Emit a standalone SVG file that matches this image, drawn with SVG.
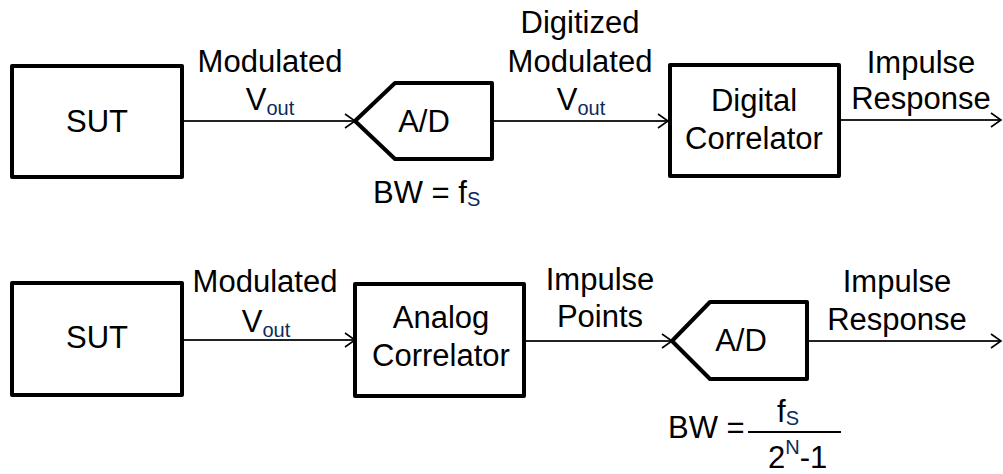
<svg xmlns="http://www.w3.org/2000/svg" width="1003" height="474" viewBox="0 0 1003 474">
  <defs>
    <marker id="arrow" viewBox="-12 -9 14 18" refX="0" refY="0" markerWidth="14" markerHeight="18" markerUnits="userSpaceOnUse" orient="auto">
      <path d="M-10,-7 L0,0 L-10,7" fill="none" stroke="#000" stroke-width="1.6"/>
    </marker>
  </defs>
  <style>
    .box { fill: #fff; stroke: #000; stroke-width: 4; stroke-linejoin: round; }
    .wire { fill: none; stroke: #222; stroke-width: 1.8; marker-end: url(#arrow); }
    .lbl { font-family: "Liberation Sans", Arial, sans-serif; font-size: 31px; fill: #000; text-anchor: middle; }
    .sub { font-size: 20px; fill: #0b2a5c; }
    .plain { font-family: "Liberation Sans", Arial, sans-serif; font-size: 31px; fill: #000; }
  </style>

  <g id="connectors">
    <line class="wire" x1="182" y1="121" x2="355" y2="121"/>
    <line class="wire" x1="492" y1="121" x2="668" y2="121"/>
    <line class="wire" x1="839" y1="120" x2="1001" y2="120"/>
    <line class="wire" x1="182" y1="340" x2="355" y2="340"/>
    <line class="wire" x1="524" y1="341" x2="672" y2="341"/>
    <line class="wire" x1="807" y1="341" x2="1001" y2="341"/>
  </g>

  <!-- Top chain: SUT -> A/D -> digital correlator -->
  <g id="sut-top">
    <rect class="box" x="12" y="66" width="170" height="111"/>
    <text class="lbl" x="97" y="132">SUT</text>
  </g>

  <g id="adc-top">
    <polygon class="box" points="355,121 395,83 492,83 492,159 395,159"/>
    <text class="lbl" x="424" y="132">A/D</text>
    <text class="plain" x="373" y="203">BW = f<tspan class="sub" dy="3">S</tspan></text>
  </g>

  <g id="digital-correlator">
    <rect class="box" x="670" y="65" width="169" height="111"/>
    <text class="lbl" x="754" y="111">Digital</text>
    <text class="lbl" x="754" y="149">Correlator</text>
  </g>

  <g id="labels-top">
    <text class="lbl" x="270" y="72">Modulated</text>
    <text class="lbl" x="270" y="110">V<tspan class="sub" dy="5">out</tspan></text>
    <text class="lbl" x="580" y="33">Digitized</text>
    <text class="lbl" x="580" y="72">Modulated</text>
    <text class="lbl" x="581" y="110">V<tspan class="sub" dy="5">out</tspan></text>
    <text class="lbl" x="921" y="73">Impulse</text>
    <text class="lbl" x="921" y="109">Response</text>
  </g>

  <!-- Bottom chain: SUT -> analog correlator -> A/D -->
  <g id="sut-bottom">
    <rect class="box" x="12" y="283" width="170" height="112"/>
    <text class="lbl" x="97" y="348">SUT</text>
  </g>

  <g id="analog-correlator">
    <rect class="box" x="355" y="284" width="169" height="112"/>
    <text class="lbl" x="441" y="328">Analog</text>
    <text class="lbl" x="441" y="366">Correlator</text>
  </g>

  <g id="adc-bottom">
    <polygon class="box" points="672,341 710,302 807,302 807,379 710,379"/>
    <text class="lbl" x="741" y="351">A/D</text>
    <text class="plain" x="668" y="438">BW =</text>
    <line x1="748" y1="432" x2="841" y2="432" stroke="#000" stroke-width="1.8"/>
    <text class="plain" x="777" y="422">f<tspan class="sub" dy="3">S</tspan></text>
    <text class="plain" x="768" y="468">2<tspan class="sub" dy="-14">N</tspan><tspan dy="14">-1</tspan></text>
  </g>

  <g id="labels-bottom">
    <text class="lbl" x="265" y="292">Modulated</text>
    <text class="lbl" x="266" y="332">V<tspan class="sub" dy="5">out</tspan></text>
    <text class="lbl" x="600" y="290">Impulse</text>
    <text class="lbl" x="600" y="327">Points</text>
    <text class="lbl" x="897" y="292">Impulse</text>
    <text class="lbl" x="897" y="330">Response</text>
  </g>
</svg>
